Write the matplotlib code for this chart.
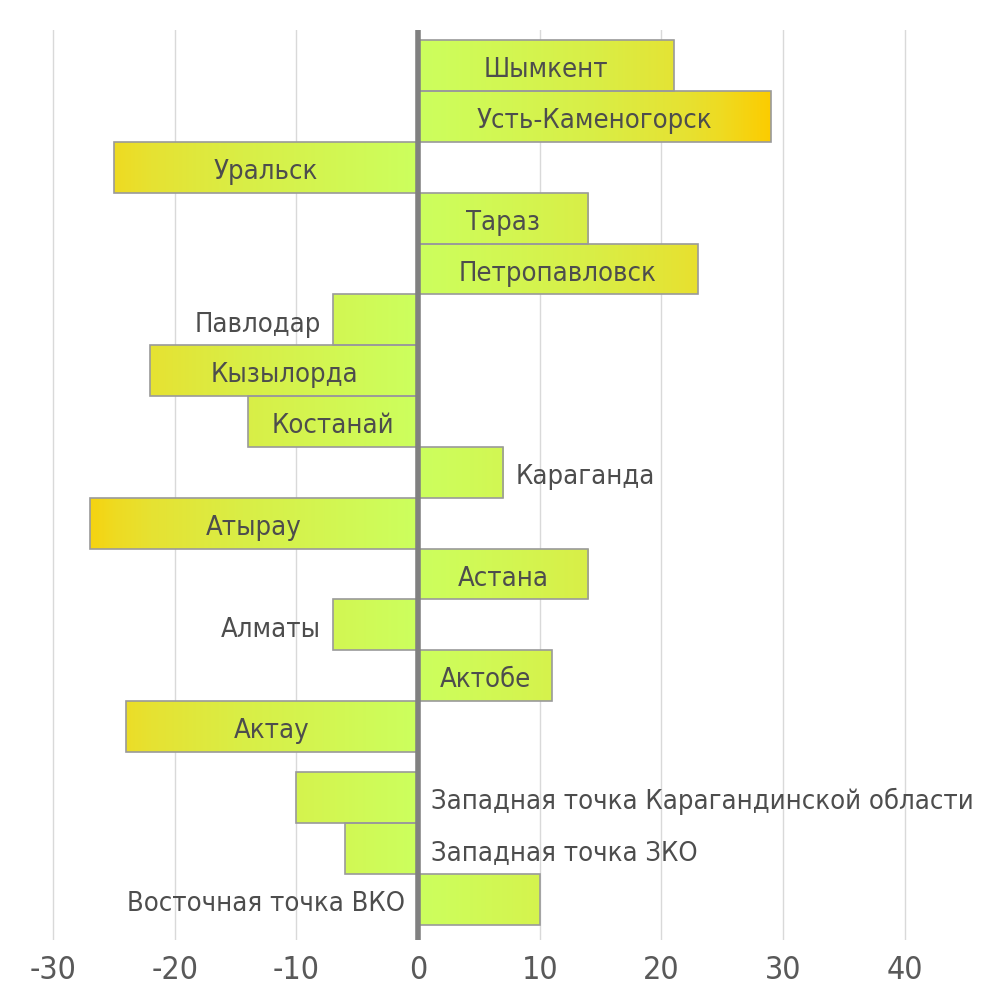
import numpy as np
import matplotlib
matplotlib.use("Agg")
import matplotlib.pyplot as plt
from matplotlib.colors import LinearSegmentedColormap
from matplotlib.patches import Rectangle

cities = ["Шымкент", "Усть-Каменогорск", "Уральск", "Тараз", "Петропавловск",
          "Павлодар", "Кызылорда", "Костанай", "Караганда", "Атырау", "Астана",
          "Алматы", "Актобе", "Актау",
          "Западная точка Карагандинской области", "Западная точка ЗКО",
          "Восточная точка ВКО"]
values = [21, 29, -25, 14, 23, -7, -22, -14, 7, -27, 14, -7, 11, -24, -10, -6, 10]
# where the label goes: in the bar, beyond its end, or on the other side of zero
label_pos = ["in", "in", "in", "in", "in", "out", "in", "in", "out", "in", "in",
             "out", "in", "in", "axis", "axis", "axis"]
ticks = [-30, -20, -10, 0, 10, 20, 30, 40]

plt.rcParams['font.family'] = ['DejaVu Sans']
plt.rcParams['font.stretch'] = 'condensed'

# the last three bars sit a little apart from the others
ypos = np.arange(len(values), dtype=float)
ypos[14:] += 0.4

cmap = LinearSegmentedColormap.from_list(
    "lime", [(0.0, "#ccff5e"), (0.5, "#d9ee46"), (0.76, "#e6e232"),
             (0.86, "#eedb22"), (1.0, "#fccc00")])

fig = plt.figure(figsize=(10, 10.01), dpi=100)
ax = fig.add_axes([0.0287, 0.0609, 0.949, 0.909])

for t in ticks:
    if t != 0:
        ax.axvline(t, color="#d9d9d9", lw=1, zorder=0)

grad = np.abs(np.linspace(-32, 46, 800))[None, :] / 29.0
for y, v, name, mode in zip(ypos, values, cities, label_pos):
    rect = Rectangle((0, y - 0.5), v, 1.0, facecolor="none",
                     edgecolor="#9a9a9a", lw=1.2, zorder=3)
    ax.add_patch(rect)
    im = ax.imshow(grad, cmap=cmap, vmin=0, vmax=1, aspect="auto",
                   extent=(-32, 46, y + 0.5, y - 0.5), zorder=2)
    im.set_clip_path(rect)
    side = 1 if v > 0 else -1
    ty = y + 0.23
    if mode == "in":
        ax.text(v / 2, ty, name, ha="center", va="baseline", fontsize=19.6,
                color="#4d4d4d", zorder=5)
    elif mode == "out":
        ax.text(v + side * 1.0, ty, name, ha="left" if side > 0 else "right",
                va="baseline", fontsize=19.6, color="#4d4d4d", zorder=5)
    else:
        ax.text(-side * 1.1, ty, name, ha="right" if side > 0 else "left",
                va="baseline", fontsize=19.6, color="#4d4d4d", zorder=5,
                clip_on=False)

ax.axvline(0, color="#808080", lw=4, zorder=4)
ax.set_ylim(ypos[-1] + 0.8, -0.7)
ax.set_xlim(-32, 46)

ax.set_xticks(ticks)
ax.set_xticklabels([str(t) for t in ticks])
ax.tick_params(axis="x", length=0, labelsize=23, labelcolor="#595959", pad=11)
ax.set_yticks([])
for s in ax.spines.values():
    s.set_visible(False)

fig.savefig("out.png", dpi=100, facecolor="white")
